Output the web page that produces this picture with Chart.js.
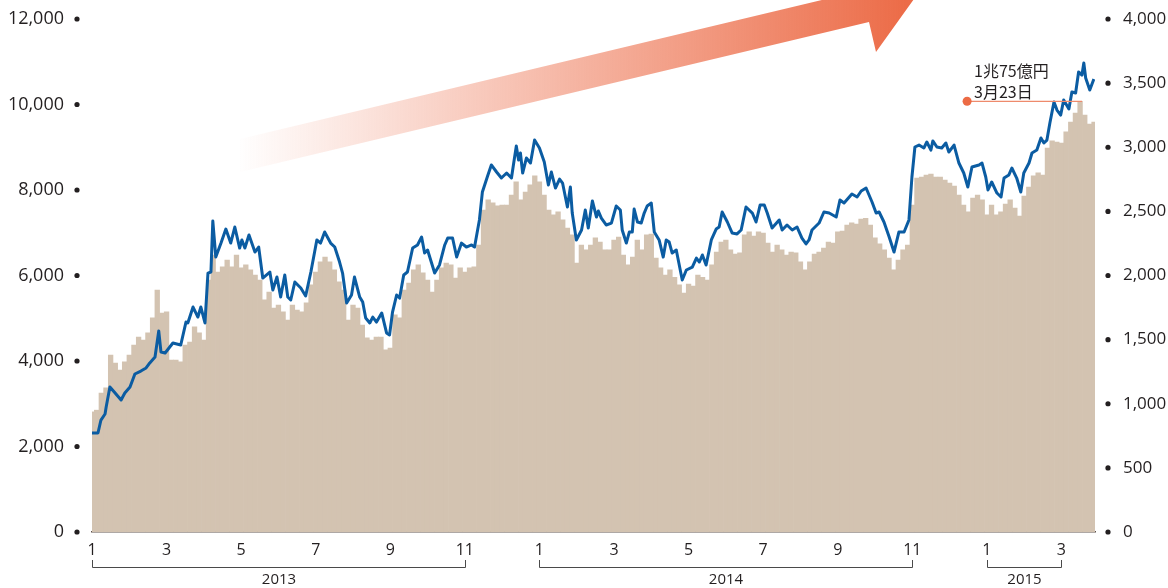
<!DOCTYPE html>
<html>
<head>
<meta charset="utf-8">
<script src="https://cdn.jsdelivr.net/npm/chart.js@4.4.1/dist/chart.umd.min.js"></script>
<style>
    html, body { margin: 0; padding: 0; background: #fff; }
</style>
</head>
<body>
<canvas id="chart" width="1168" height="588"></canvas>
<script>
// 売買代金（億円, 左軸）: 2013年1月から 1/8か月ごと
const tradeValue = [
    2810, 2850, 3250, 3370, 4140, 3950, 3790, 3980, 4140, 4370,
    4560, 4490, 4660, 5010, 5660, 5120, 5150, 4020, 4020, 3980,
    4370, 4440, 4800, 4660, 4490, 5890, 6480, 6080, 6200, 6360,
    6200, 6480, 6180, 6250, 6130, 6010, 5890, 5430, 5610, 5240,
    5310, 5150, 4960, 5310, 5190, 5150, 5360, 5780, 6080, 6320,
    6430, 6320, 6130, 5850, 5660, 4960, 5310, 5240, 4840, 4540,
    4490, 4560, 4560, 4260, 4300, 5080, 5010, 5660, 5820, 6130,
    6250, 6060, 5890, 5610, 5890, 6180, 6290, 6250, 5940, 6180,
    6080, 6180, 6200, 6710, 7530, 7770, 7700, 7630, 7650, 7650,
    7880, 8190, 7770, 7950, 8120, 8330, 8190, 7880, 7530, 7420,
    7490, 7300, 7110, 6950, 6290, 6710, 6600, 6710, 6880, 6780,
    6600, 6600, 6830, 6900, 6480, 6250, 6430, 6830, 6600, 6950,
    6970, 6410, 6180, 6010, 6130, 5960, 5780, 5590, 5800, 5750,
    6010, 5960, 5890, 6250, 6550, 6780, 6830, 6600, 6500, 6530,
    6950, 7020, 6920, 7020, 6990, 6760, 6550, 6710, 6600, 6480,
    6550, 6530, 6320, 6130, 6320, 6500, 6550, 6640, 6780, 6760,
    7020, 7040, 7180, 7230, 7200, 7320, 7340, 7180, 6880, 6740,
    6600, 6410, 6130, 6360, 6600, 6710, 7650, 8280, 8300, 8350,
    8370, 8300, 8300, 8230, 8160, 8090, 7880, 7650, 7490, 7810,
    7880, 7770, 7420, 7650, 7420, 7490, 7670, 7770, 7580, 7390,
    7860, 8070, 8330, 8400, 8350, 8980, 9150, 9120, 9100, 9360,
    9590, 9800, 10075, 9750, 9540, 9590
];
const tradeMonths = tradeValue.map((v, i) => i / 8);

// 株価（右軸）: [2013年1月からの月数, 値]
const priceSeries = [
    [0, 772], [0.16, 772], [0.24, 873], [0.35, 920], [0.38, 975], [0.48, 1131], [0.62, 1084], [0.78, 1029], [0.88, 1084], [1.02, 1131],
    [1.15, 1232], [1.31, 1255], [1.45, 1279], [1.55, 1318], [1.69, 1364], [1.79, 1567], [1.85, 1403], [1.96, 1396], [2.17, 1474], [2.38, 1458],
    [2.52, 1637], [2.57, 1630], [2.71, 1754], [2.84, 1676], [2.92, 1754], [3.03, 1630], [3.11, 2019], [3.19, 2027], [3.24, 2425], [3.32, 2144],
    [3.46, 2253], [3.59, 2362], [3.72, 2253], [3.83, 2378], [3.96, 2214], [4.02, 2277], [4.10, 2214], [4.21, 2316], [4.37, 2183], [4.47, 2222],
    [4.58, 1980], [4.77, 2027], [4.85, 1887], [4.96, 1988], [5.06, 1832], [5.17, 2004], [5.25, 1832], [5.33, 1809], [5.44, 1949], [5.60, 1902],
    [5.73, 1840], [5.87, 2027], [6.03, 2277], [6.13, 2253], [6.24, 2339], [6.40, 2253], [6.51, 2222], [6.64, 2105], [6.72, 2019], [6.83, 1786],
    [6.96, 1848], [7.04, 1988], [7.18, 1832], [7.26, 1793], [7.34, 1669], [7.45, 1630], [7.53, 1676], [7.63, 1637], [7.77, 1708], [7.90, 1552],
    [7.98, 1536], [8.06, 1715], [8.17, 1848], [8.25, 1824], [8.36, 2004], [8.46, 2027], [8.60, 2214], [8.73, 2238], [8.84, 2300], [8.92, 2175],
    [9.00, 2199], [9.19, 2019], [9.32, 2082], [9.46, 2238], [9.54, 2292], [9.67, 2292], [9.78, 2144], [9.91, 2253], [10.04, 2222], [10.18, 2238],
    [10.26, 2222], [10.39, 2433], [10.47, 2651], [10.61, 2776], [10.71, 2862], [10.85, 2807], [10.98, 2760], [11.12, 2799], [11.25, 2760], [11.31, 2877],
    [11.38, 3010], [11.44, 2900], [11.49, 2955], [11.55, 2799], [11.65, 2916], [11.76, 2877], [11.87, 3056], [12.00, 2994], [12.13, 2885], [12.24, 2706],
    [12.32, 2807], [12.43, 2682], [12.54, 2752], [12.62, 2721], [12.75, 2534], [12.83, 2690], [12.88, 2487], [12.99, 2277], [13.13, 2355], [13.23, 2511],
    [13.31, 2370], [13.42, 2581], [13.53, 2456], [13.58, 2503], [13.66, 2448], [13.79, 2394], [13.93, 2409], [14.06, 2542], [14.17, 2511], [14.22, 2355],
    [14.33, 2253], [14.41, 2339], [14.49, 2339], [14.54, 2518], [14.63, 2417], [14.73, 2409], [14.81, 2487], [14.89, 2542], [15.00, 2565], [15.08, 2339],
    [15.21, 2277], [15.32, 2144], [15.40, 2277], [15.48, 2261], [15.56, 2175], [15.67, 2199], [15.83, 1965], [15.94, 2043], [16.10, 2066], [16.21, 2136],
    [16.29, 2105], [16.37, 2160], [16.47, 2082], [16.61, 2277], [16.74, 2362], [16.82, 2378], [16.90, 2495], [17.04, 2417], [17.17, 2331], [17.30, 2324],
    [17.41, 2355], [17.54, 2534], [17.71, 2487], [17.81, 2417], [17.92, 2550], [18.03, 2550], [18.11, 2487], [18.24, 2370], [18.43, 2433], [18.51, 2355],
    [18.64, 2394], [18.78, 2355], [18.91, 2378], [19.04, 2292], [19.15, 2246], [19.23, 2277], [19.31, 2355], [19.50, 2409], [19.63, 2495], [19.77, 2487],
    [19.96, 2456], [20.06, 2589], [20.17, 2565], [20.38, 2635], [20.52, 2612], [20.63, 2659], [20.76, 2682], [20.92, 2573], [21.03, 2487], [21.11, 2495],
    [21.24, 2417], [21.38, 2300], [21.51, 2183], [21.64, 2339], [21.78, 2339], [21.91, 2433], [21.99, 2768], [22.07, 3002], [22.18, 3017], [22.31, 2994],
    [22.39, 3041], [22.50, 2978], [22.55, 3049], [22.66, 3002], [22.79, 2994], [22.90, 3033], [22.98, 2963], [23.12, 3017], [23.25, 2877], [23.38, 2799],
    [23.49, 2690], [23.60, 2846], [23.79, 2862], [23.87, 2877], [23.97, 2768], [24.03, 2667], [24.13, 2729], [24.27, 2643], [24.38, 2612], [24.46, 2760],
    [24.59, 2784], [24.67, 2838], [24.80, 2760], [24.91, 2651], [24.99, 2799], [25.13, 2877], [25.21, 2955], [25.34, 2978], [25.45, 3072], [25.53, 3033],
    [25.61, 3056], [25.69, 3189], [25.80, 3353], [25.88, 3290], [25.98, 3251], [26.06, 3368], [26.20, 3298], [26.28, 3431], [26.38, 3423], [26.46, 3587],
    [26.55, 3563], [26.60, 3657], [26.65, 3540], [26.76, 3446], [26.87, 3532]
];

const years = [
    { text: '2013', from: 0, to: 10 },
    { text: '2014', from: 12, to: 22 },
    { text: '2015', from: 24, to: 26 }
];

// 注記: 3月23日の売買代金
const peakNote = { lines: ['1兆75億円', '3月23日'], dotMonth: 23.47, barMonth: 26.5, value: 10075 };

const textColor = '#231f20';
const barColor = '#d3c3b1';
const lineColor = '#0b5ca2';
const accent = '#ec6b45';

// 右上がりの矢印（飾り）
const arrowPlugin = {
    id: 'arrow',
    beforeDatasetsDraw(chart) {
        const ctx = chart.ctx;
        ctx.save();
        let g = ctx.createLinearGradient(236, 0, 905, 0);
        g.addColorStop(0, 'rgba(236,108,72,0)');
        g.addColorStop(1, 'rgba(236,108,72,1)');
        ctx.fillStyle = g;
        ctx.beginPath();
        ctx.moveTo(240, 139);
        ctx.lineTo(826, -1);
        ctx.lineTo(914, -1);
        ctx.lineTo(876, 52);
        ctx.lineTo(869, 22);
        ctx.lineTo(240, 172);
        ctx.closePath();
        ctx.fill();
        ctx.restore();
    }
};

// 目盛りの点
const dotPlugin = {
    id: 'tickDots',
    afterDraw(chart) {
        const ctx = chart.ctx;
        const area = chart.chartArea;
        ctx.save();
        ctx.fillStyle = textColor;
        for (let t of chart.scales.y.ticks) {
            ctx.beginPath();
            ctx.arc(area.left - 15, chart.scales.y.getPixelForValue(t.value), 2.6, 0, Math.PI * 2);
            ctx.fill();
        }
        for (let t of chart.scales.y1.ticks) {
            ctx.beginPath();
            ctx.arc(area.right + 13, chart.scales.y1.getPixelForValue(t.value), 2.6, 0, Math.PI * 2);
            ctx.fill();
        }
        ctx.restore();
    }
};

const notePlugin = {
    id: 'note',
    afterDatasetsDraw(chart) {
        const ctx = chart.ctx;
        const x = chart.scales.x;
        const y = chart.scales.y;
        let x1 = x.getPixelForValue(peakNote.dotMonth);
        let x2 = x.getPixelForValue(peakNote.barMonth);
        let yy = y.getPixelForValue(peakNote.value);
        ctx.save();
        ctx.strokeStyle = '#ee8a6c';
        ctx.lineWidth = 1.2;
        ctx.beginPath();
        ctx.moveTo(x1, yy);
        ctx.lineTo(x2 + 2, yy);
        ctx.stroke();
        ctx.fillStyle = accent;
        ctx.beginPath();
        ctx.arc(x1, yy, 4.5, 0, Math.PI * 2);
        ctx.fill();
        ctx.fillStyle = textColor;
        ctx.font = "16px 'Noto Sans CJK JP'";
        ctx.textBaseline = 'alphabetic';
        ctx.fillText(peakNote.lines[0], x1 + 7, yy - 24);
        ctx.fillText(peakNote.lines[1], x1 + 7, yy - 3);
        ctx.restore();
    }
};

const yearPlugin = {
    id: 'years',
    afterDraw(chart) {
        const ctx = chart.ctx;
        const x = chart.scales.x;
        ctx.save();
        ctx.strokeStyle = '#4a4a4a';
        ctx.lineWidth = 1;
        ctx.fillStyle = textColor;
        ctx.font = "15px 'Open Sans'";
        ctx.textAlign = 'center';
        ctx.textBaseline = 'middle';
        for (let yr of years) {
            let a = Math.round(x.getPixelForValue(yr.from)) + 0.5;
            let b = Math.round(x.getPixelForValue(yr.to)) + 0.5;
            ctx.beginPath();
            ctx.moveTo(a, 560);
            ctx.lineTo(a, 567.5);
            ctx.lineTo(b, 567.5);
            ctx.lineTo(b, 560);
            ctx.stroke();
            ctx.fillText(yr.text, (a + b) / 2, 580);
        }
        ctx.restore();
    }
};

// 縦軸の幅を固定し、上下の余白を使わない
function fixY(width) {
    return s => {
        s.width = width;
        s.paddingTop = 0;
        s.paddingBottom = 0;
    };
}

Chart.defaults.font.family = "'Open Sans', sans-serif";
Chart.defaults.color = textColor;

new Chart(document.getElementById('chart'), {
    data: {
        datasets: [
            {
                type: 'line',
                yAxisID: 'y1',
                data: priceSeries.map(p => ({ x: p[0], y: p[1] })),
                borderColor: lineColor,
                borderWidth: 3,
                pointRadius: 0,
                tension: 0,
                borderJoinStyle: 'round',
                order: 0
            },
            {
                type: 'bar',
                yAxisID: 'y',
                data: tradeMonths.map((m, i) => ({ x: m, y: tradeValue[i] })),
                backgroundColor: barColor,
                borderWidth: 0,
                barPercentage: 1,
                categoryPercentage: 1,
                order: 1
            }
        ]
    },
    options: {
        responsive: false,
        animation: false,
        layout: { padding: { top: 19, left: 0, right: 0, bottom: 0 } },
        plugins: {
            legend: { display: false },
            tooltip: { enabled: false }
        },
        scales: {
            x: {
                type: 'linear',
                offset: false,
                min: 0,
                max: 26.9,
                grid: { display: false, offset: false },
                border: { display: true, color: '#5e524c', width: 1.5 },
                ticks: {
                    stepSize: 2,
                    includeBounds: false,
                    autoSkip: false,
                    maxRotation: 0,
                    padding: 1,
                    font: { size: 16 },
                    callback: v => (v % 12) + 1
                },
                afterFit: s => { s.height = 56; }
            },
            y: {
                position: 'left',
                min: 0,
                max: 12000,
                grid: { display: false },
                border: { display: false },
                ticks: {
                    stepSize: 2000,
                    padding: 20,
                    font: { size: 18 },
                    callback: v => v.toLocaleString('en-US')
                },
                afterFit: fixY(92)
            },
            y1: {
                position: 'right',
                min: 0,
                max: 4000,
                grid: { display: false },
                border: { display: false },
                ticks: {
                    stepSize: 500,
                    padding: 20,
                    font: { size: 17 },
                    callback: v => v.toLocaleString('en-US')
                },
                afterFit: fixY(73)
            }
        }
    },
    plugins: [arrowPlugin, dotPlugin, notePlugin, yearPlugin]
});
</script>
</body>
</html>
